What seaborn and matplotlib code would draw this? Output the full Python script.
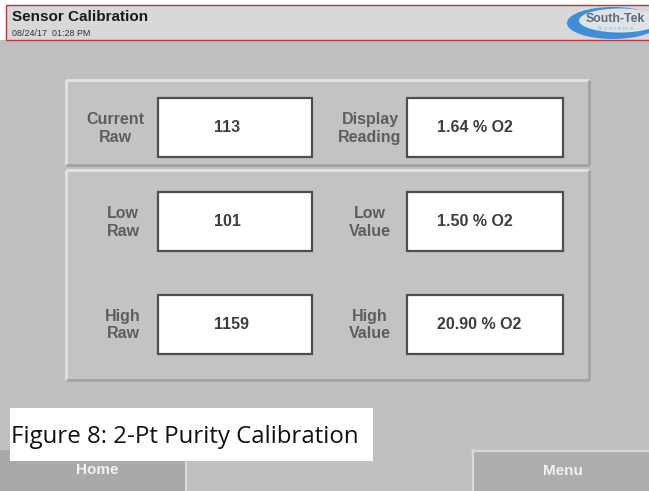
import matplotlib
matplotlib.use("Agg")
import matplotlib.pyplot as plt
from matplotlib.patches import Rectangle, Ellipse
import seaborn as sns

# ---- data ----
title = "Sensor Calibration"
timestamp = "08/24/17  01:28 PM"
left_labels = ["Current\nRaw", "Low\nRaw", "High\nRaw"]
left_values = ["113", "101", "1159"]
right_labels = ["Display\nReading", "Low\nValue", "High\nValue"]
right_values = ["1.64 % O2", "1.50 % O2", "20.90 % O2"]
caption = "Figure 8: 2-Pt Purity Calibration"
buttons = ["Home", "Menu"]

sns.set_theme(style="white")
plt.rcParams["font.family"] = ["Liberation Sans", "DejaVu Sans"]

W, H = 649, 491
fig = plt.figure(figsize=(W / 100, H / 100), dpi=100)
fig.patch.set_facecolor("white")
ax = fig.add_axes([0, 0, 1, 1])
ax.set_xlim(0, W)
ax.set_ylim(H, 0)
ax.axis("off")

bg = "#c0c0c0"
ax.add_patch(Rectangle((0, 40), W, H - 40, facecolor=bg, edgecolor="none", zorder=0))

# header
ax.add_patch(Rectangle((6, 5), W, 35, facecolor="#d8d8d8", edgecolor="#b23a3a", lw=1.0, zorder=1))
ax.text(12, 17, title, fontsize=11, fontweight="bold", color="#1a1a1a", va="center", ha="left", zorder=2)
ax.text(12, 33, timestamp, fontsize=6.4, color="#333333", va="center", ha="left", zorder=2)

# logo
ax.add_patch(Ellipse((613, 23), 92, 32, facecolor="#3f8fd8", edgecolor="none", zorder=2))
ax.add_patch(Ellipse((620, 20.5), 82, 24, facecolor="#dfe3e7", edgecolor="none", zorder=3))
ax.text(615, 18.5, "South-Tek", fontsize=8.8, fontweight="bold", color="#5b6b7b", ha="center", va="center", zorder=4)
ax.text(616, 28.5, "S y s t e m s", fontsize=4.6, color="#8ab4dc", ha="center", va="center", zorder=4)


def panel(x0, y0, x1, y1):
    ax.add_patch(Rectangle((x0, y0), x1 - x0, y1 - y0, facecolor="#c3c3c3", edgecolor="none", zorder=1))
    ax.plot([x0, x1], [y0, y0], color="#e2e2e2", lw=2, zorder=2, solid_capstyle="butt")
    ax.plot([x0, x0], [y0, y1], color="#e2e2e2", lw=2, zorder=2, solid_capstyle="butt")
    ax.plot([x0, x1], [y1, y1], color="#a2a2a2", lw=2, zorder=2, solid_capstyle="butt")
    ax.plot([x1, x1], [y0, y1], color="#a2a2a2", lw=2, zorder=2, solid_capstyle="butt")


panel(66, 80, 589, 165)
panel(66, 170, 589, 380)

rows_y = [(98, 157), (192, 251), (295, 354)]
label_col = "#5e5e5e"
val_col = "#3e3e3e"
fs = 11.5
for i, (ya, yb) in enumerate(rows_y):
    yc = (ya + yb) / 2
    # left
    ax.add_patch(Rectangle((158, ya), 154, yb - ya, facecolor="white", edgecolor="#4e4e4e", lw=1.6, zorder=3))
    lx = 115 if i == 0 else 123
    ax.text(lx, yc + 0.5, left_labels[i], fontsize=fs, fontweight="bold", color=label_col,
            ha="center", va="center", linespacing=1.25, zorder=4)
    ax.text(214, yc, left_values[i], fontsize=fs, fontweight="bold", color=val_col,
            ha="left", va="center", zorder=4)
    # right
    ax.add_patch(Rectangle((407, ya), 156, yb - ya, facecolor="white", edgecolor="#4e4e4e", lw=1.6, zorder=3))
    ax.text(370, yc + 0.5, right_labels[i], fontsize=fs, fontweight="bold", color=label_col,
            ha="center", va="center", linespacing=1.25, zorder=4)
    ax.text(437, yc, right_values[i], fontsize=fs, fontweight="bold", color=val_col,
            ha="left", va="center", zorder=4)

# buttons
ax.add_patch(Rectangle((0, 450), 186, 50, facecolor="#a9a9a9", edgecolor="none", zorder=2))
ax.plot([186, 186], [450, 491], color="#d8d8d8", lw=1.5, zorder=3)
ax.add_patch(Rectangle((472, 450), 200, 50, facecolor="#adadad", edgecolor="none", zorder=2))
ax.plot([472, 649], [450.5, 450.5], color="#dadada", lw=1.5, zorder=3)
ax.plot([472.5, 472.5], [450, 491], color="#dadada", lw=1.5, zorder=3)
ax.text(97, 470, buttons[0], fontsize=11, fontweight="bold", color="#f2f2f2", ha="center", va="center", zorder=4)
ax.text(563, 471, buttons[1], fontsize=11, fontweight="bold", color="#f2f2f2", ha="center", va="center", zorder=4)

# caption
ax.add_patch(Rectangle((10, 408), 363, 53, facecolor="white", edgecolor="none", zorder=5))
ax.text(11, 437, caption, fontsize=17.3, color="#111111", family=["Open Sans", "DejaVu Sans"],
        ha="left", va="center", zorder=6)

fig.savefig("out.png", dpi=100)
